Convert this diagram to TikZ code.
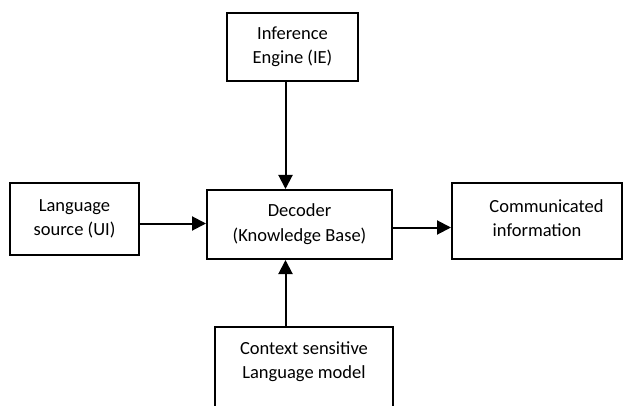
\documentclass[tikz,border=0pt]{standalone}
\usepackage{fontspec}
\setmainfont{Carlito}
\usetikzlibrary{arrows.meta}
\begin{document}
\begin{tikzpicture}[x=1pt,y=1pt,
  box/.style={draw, line width=2pt, align=center, inner sep=0pt,
    font=\fontsize{18.5}{24}\selectfont},
  conn/.style={line width=2pt, -{Triangle[length=14pt,width=14pt]}}]
\clip (0,0) rectangle (624,405);
\node[box, minimum width=131, minimum height=68] (ie) at (292.5,358) {Inference\\Engine (IE)};
\node[box, minimum width=129, minimum height=72] (ls) at (74.5,186) {Language\\source (UI)};
\node[box, minimum width=185, minimum height=69] (dec) at (299.5,180.5) {Decoder\\[1pt](Knowledge Base)};
\node[box, minimum width=170, minimum height=76] (ci) at (537,184) {\hspace*{19pt}Communicated\\information\rule[-6pt]{0pt}{0pt}};
\node[box, draw=none, minimum width=176, minimum height=67] (ctx) at (304,43.5) {Context sensitive\\Language model};
\draw[line width=2pt] ([yshift=-30pt]ctx.south west) -- (ctx.north west) -- (ctx.north east) -- ([yshift=-30pt]ctx.south east);
\draw[conn] (ie.south -| 285.5,0) -- (dec.north -| 285.5,0);
\draw[conn] (ctx.north -| 285.5,0) -- (dec.south -| 285.5,0);
\draw[conn] (ls.east |- 0,181.5) -- (dec.west |- 0,181.5);
\draw[conn] (dec.east |- 0,177.5) -- (ci.west |- 0,177.5);
\end{tikzpicture}
\end{document}
